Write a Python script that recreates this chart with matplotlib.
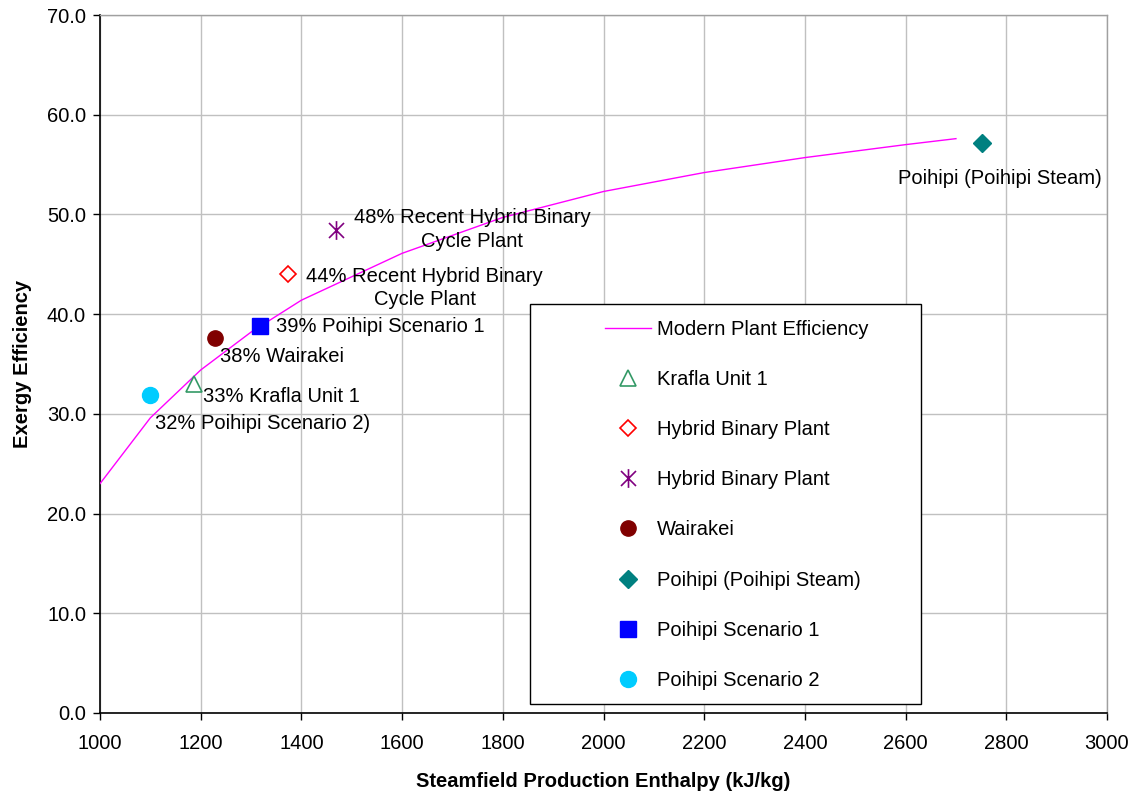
import matplotlib
matplotlib.use("Agg")
import matplotlib.pyplot as plt
from matplotlib.patches import Rectangle
from matplotlib.path import Path

plt.rcParams['font.family'] = ['Liberation Sans', 'DejaVu Sans']

# Modern plant efficiency curve
curve_x = [1000, 1100, 1200, 1300, 1400, 1600, 1800, 2000, 2200, 2400, 2600, 2700]
curve_y = [23.0, 29.6, 34.4, 38.2, 41.4, 46.1, 49.7, 52.3, 54.2, 55.7, 57.0, 57.6]

# Plant points
krafla = (1186, 33.0)
hybrid1 = (1374, 44.0)
hybrid2 = (1469, 48.4)
wairakei = (1228, 37.6)
poihipi_steam = (2751, 57.2)
scen1 = (1317, 38.8)
scen2 = (1099, 31.9)

x_ticks = list(range(1000, 3001, 200))
y_ticks = [0, 10, 20, 30, 40, 50, 60, 70]

fs = 14.5

# Excel-style asterisk: vertical bar plus an X
star = Path([(0, -1), (0, 1), (-0.8, -0.8), (0.8, 0.8), (-0.8, 0.8), (0.8, -0.8)],
            [Path.MOVETO, Path.LINETO, Path.MOVETO, Path.LINETO, Path.MOVETO, Path.LINETO])

fig = plt.figure(figsize=(11.36, 7.93), dpi=100)
ax = fig.add_axes([100/1136, 80/793, 1007/1136, 698/793])

ax.plot(curve_x, curve_y, color='#FF00FF', lw=1.0, label='Modern Plant Efficiency', zorder=3)
ax.plot(*krafla, ls='none', marker='^', ms=11, mfc='white', mec='#339966', mew=1.2, label='Krafla Unit 1', zorder=4)
ax.plot(*hybrid1, ls='none', marker='D', ms=8, mfc='white', mec='#FF0000', mew=1.2, label='Hybrid Binary Plant', zorder=4)
ax.plot(*hybrid2, ls='none', marker=star, ms=13.5, mfc='none', mec='#800080', mew=1.2, label='Hybrid Binary Plant', zorder=4)
ax.plot(*wairakei, ls='none', marker='o', ms=11, color='#800000', label='Wairakei', zorder=4)
ax.plot(*poihipi_steam, ls='none', marker='D', ms=9, color='#008080', label='Poihipi (Poihipi Steam)', zorder=4)
ax.plot(*scen1, ls='none', marker='s', ms=12, color='#0000FF', label='Poihipi Scenario 1', zorder=4)
ax.plot(*scen2, ls='none', marker='o', ms=11.5, color='#00CCFF', label='Poihipi Scenario 2', zorder=4)

ax.text(1739, 48.5, '48% Recent Hybrid Binary\nCycle Plant', ha='center', va='center', fontsize=fs, linespacing=1.3, zorder=5)
ax.text(1645, 42.6, '44% Recent Hybrid Binary\nCycle Plant', ha='center', va='center', fontsize=fs, linespacing=1.3, zorder=5)
ax.text(1350, 38.8, '39% Poihipi Scenario 1', ha='left', va='center', fontsize=fs, zorder=5)
ax.text(1238, 35.8, '38% Wairakei', ha='left', va='center', fontsize=fs, zorder=5)
ax.text(1205, 31.7, '33% Krafla Unit 1', ha='left', va='center', fontsize=fs, zorder=5)
ax.text(1109, 29.0, '32% Poihipi Scenario 2)', ha='left', va='center', fontsize=fs, zorder=5)
ax.text(2788, 53.6, 'Poihipi (Poihipi Steam)', ha='center', va='center', fontsize=fs, zorder=5)

ax.set_xlim(1000, 3000)
ax.set_ylim(0, 70)
ax.set_xticks(x_ticks)
ax.set_yticks(y_ticks)
ax.set_yticklabels([f'{v:.1f}' for v in y_ticks])
ax.tick_params(axis='both', labelsize=fs, direction='out', length=5, width=1, color='black')
ax.tick_params(axis='x', pad=10)
ax.tick_params(axis='y', pad=5)
ax.grid(True, color='#C0C0C0', lw=1)
ax.set_axisbelow(True)
for s in ['top', 'right']:
    ax.spines[s].set_color('#A0A0A0')
    ax.spines[s].set_linewidth(1)
for s in ['left', 'bottom']:
    ax.spines[s].set_color('black')
    ax.spines[s].set_linewidth(1.2)

ax.set_xlabel('Steamfield Production Enthalpy (kJ/kg)', fontsize=fs, fontweight='bold', labelpad=14)
ax.set_ylabel('Exergy Efficiency', fontsize=fs, fontweight='bold', labelpad=11)

# legend frame (pixel box 530..921 x 304..704)
ax.add_patch(Rectangle(((530 - 100) / 1007, (713 - 704) / 698),
                       (921 - 530) / 1007, (704 - 304) / 698,
                       transform=ax.transAxes, facecolor='white', edgecolor='black', lw=1, zorder=6))
leg = ax.legend(loc='upper left', bbox_to_anchor=((605 - 100) / 1007, (713 - 320) / 698),
                frameon=False, fontsize=fs, handlelength=2.3, handletextpad=0.3,
                labelspacing=1.545, borderaxespad=0, borderpad=0)
leg.set_zorder(7)

fig.savefig('out.png', dpi=100)
